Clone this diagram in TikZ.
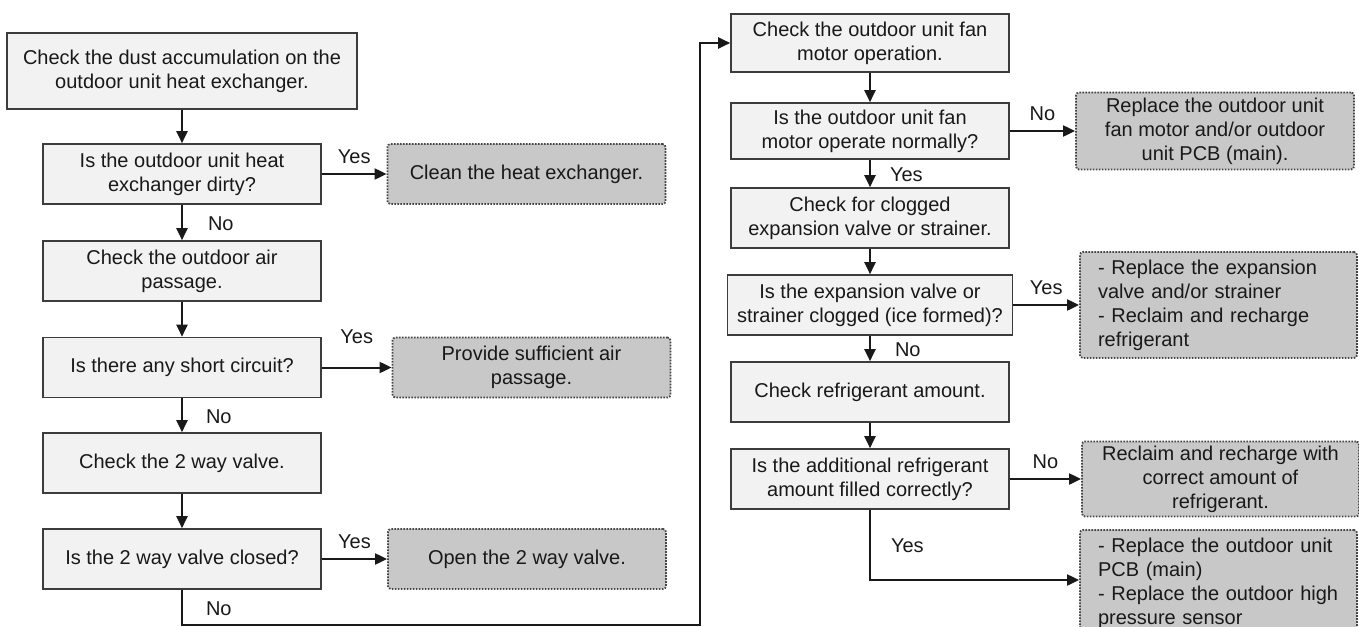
\documentclass[tikz,border=0pt]{standalone}
\usepackage{fontspec}
\setmainfont{Liberation Sans}
\usepackage{xcolor}
\definecolor{boxline}{RGB}{60,60,60}
\definecolor{boxfill}{RGB}{242,242,242}
\definecolor{actfill}{RGB}{200,200,200}
\definecolor{actline}{RGB}{70,70,70}
\definecolor{ink}{RGB}{25,25,25}
\usetikzlibrary{arrows.meta,positioning,calc}
\tikzset{
  checkbox/.style={draw=boxline, fill=boxfill, line width=0.8pt, align=center,
    minimum width=139pt, minimum height=30pt, inner sep=2pt, text=ink,
    font=\fontsize{10}{12}\selectfont},
  actbox/.style={checkbox, draw=actline, fill=actfill, rounded corners=1.5pt,
    dash pattern=on 0.8pt off 0.7pt, line width=0.9pt},
  actlist/.style={align=left, text width=120.5pt, inner xsep=9pt,
    minimum width=138.5pt, minimum height=53pt},
  arr/.style={-{Triangle[length=6pt,width=5.5pt]}, line width=1pt, draw=ink},
  lblh/.style={anchor=base, yshift=#1, inner sep=0pt, text=ink,
    font=\fontsize{10}{12}\selectfont},
  lblh/.default=5.5pt,
  lblv/.style={anchor=base west, xshift=#1, yshift=-4pt, inner sep=0pt, text=ink,
    font=\fontsize{10}{12}\selectfont},
  lblv/.default=12pt
}
\begin{document}
\begin{tikzpicture}[x=0.5pt, y=-0.5pt]
  \useasboundingbox (0,0) rectangle (1359,626);
  \clip (0,0) rectangle (1359,626);

  \node[checkbox, minimum width=175pt, minimum height=38pt] (b1) at (182,71)
    {Check the dust accumulation on the\\outdoor unit heat exchanger.};
  \foreach \nm/\yy/\txt in {
    q1/174/{Is the outdoor unit heat\\exchanger dirty?},
    b2/271/{Check the outdoor air\\passage.},
    q2/367.5/{Is there any short circuit?},
    b3/463/{Check the 2 way valve.},
    q3/559/{Is the 2 way valve closed?}%
  }{
    \node[checkbox] (\nm) at (182,\yy) {\txt};
  }
  \foreach \nm/\yy/\ww/\hh/\txt in {
    r1/43/139pt/29pt/{Check the outdoor unit fan\\motor operation.},
    rq1/131/139pt/28pt/{Is the outdoor unit fan\\motor operate normally?},
    r2/218/139pt/30pt/{Check for clogged\\expansion valve or strainer.},
    rq2/305/142.5pt/30pt/{Is the expansion valve or\\strainer clogged (ice formed)?},
    r3/392/139pt/30pt/{Check refrigerant amount.},
    rq3/479/139pt/30pt/{Is the additional refrigerant\\amount filled correctly?}%
  }{
    \node[checkbox, minimum width=\ww, minimum height=\hh] (\nm) at (870,\yy) {\txt};
  }

  \node[actbox] (a1) at (526.5,174) {Clean the heat exchanger.};
  \node[actbox] (a2) at (531.5,367.5) {Provide sufficient air\\passage.};
  \node[actbox] (a3) at (527,559) {Open the 2 way valve.};
  \node[actbox, minimum height=38.5pt] (ra1) at (1215,131)
    {Replace the outdoor unit\\fan motor and/or outdoor\\unit PCB (main).};
  \node[actbox, actlist] (ra2) at (1218.5,305)
    {- Replace the expansion\\valve and/or strainer\\- Reclaim and recharge\\refrigerant};
  \node[actbox, minimum width=138.5pt, minimum height=37.5pt] (ra3) at (1220.5,479)
    {Reclaim and recharge with\\correct amount of\\refrigerant.};
  \node[actbox, actlist] (ra4) at (1218.5,583)
    {- Replace the outdoor unit\\PCB (main)\\- Replace the outdoor high\\pressure sensor};

  \draw[arr] (b1) -- (q1);
  \draw[arr] (q1) -- node[lblv=12.5pt] {No} (b2);
  \draw[arr] (q1) -- node[lblh] {Yes} (a1);
  \draw[arr] (b2) -- (q2);
  \draw[arr] (q2) -- node[lblv=11.5pt] {No} (b3);
  \draw[arr] (q2) -- node[lblh=12pt] {Yes} (a2);
  \draw[arr] (b3) -- (q3);
  \draw[arr] (q3) -- node[lblh] {Yes} (a3);
  \coordinate (back) at (700,625);
  \draw[arr] (q3.south) |- node[lblv=11.5pt, pos=.25] {No} (back) |- (r1.west);

  \draw[arr] (r1) -- (rq1);
  \draw[arr] (rq1) -- node[lblh] {No} (ra1);
  \draw[arr] (rq1) -- node[lblv=9.5pt] {Yes} (r2);
  \draw[arr] (r2) -- (rq2);
  \draw[arr] (rq2) -- node[lblh] {Yes} (ra2);
  \draw[arr] (rq2) -- node[lblv=12pt] {No} (r3);
  \draw[arr] (r3) -- (rq3);
  \draw[arr] (rq3) -- node[lblh] {No} (ra3);
  \draw[arr] (rq3.south) |- node[lblv=10pt, pos=.25] {Yes} ([yshift=1.5pt]ra4.west);
\end{tikzpicture}
\end{document}
